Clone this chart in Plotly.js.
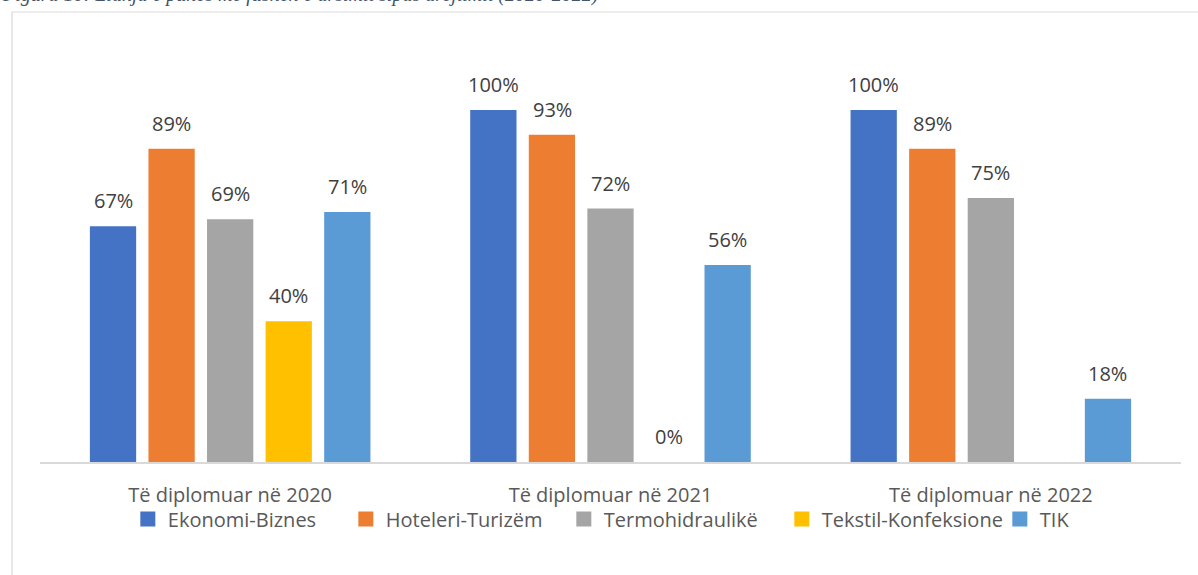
<!DOCTYPE html>
<html>
<head>
<meta charset="utf-8">
<script src="https://cdn.plot.ly/plotly-3.0.1.min.js"></script>
<style>html,body{margin:0;padding:0;background:#fff;}#chart{width:1198px;height:575px;}</style>
</head>
<body>
<div id="chart"></div>
<script>
const categories = ["Të diplomuar në 2020", "Të diplomuar në 2021", "Të diplomuar në 2022"];
const seriesNames = ["Ekonomi-Biznes", "Hoteleri-Turizëm", "Termohidraulikë", "Tekstil-Konfeksione", "TIK"];
const ekonomiBiznes = [67, 100, 100];
const hoteleriTurizem = [89, 93, 89];
const termohidraulike = [69, 72, 75];
const tekstilKonfeksione = [40, 0, null];
const tik = [71, 56, 18];
const seriesColors = ["#4472C4", "#ED7D31", "#A5A5A5", "#FFC000", "#5B9BD5"];
const caption = "Figura 10: Lidhja e punës me fushën e arsimit sipas drejtimit (2020-2022)";

const allSeries = [ekonomiBiznes, hoteleriTurizem, termohidraulike, tekstilKonfeksione, tik];

const traces = allSeries.map((vals, i) => ({
  type: "bar",
  name: seriesNames[i],
  x: categories,
  y: vals,
  marker: {color: seriesColors[i]},
  showlegend: false,
  hoverinfo: "skip"
}));
// legend-only entries with square swatches
seriesNames.forEach((n, i) => {
  traces.push({
    type: "scatter", mode: "markers", name: n,
    x: [null], y: [null],
    marker: {symbol: "square", size: 15, color: seriesColors[i]},
    showlegend: true, hoverinfo: "skip"
  });
});

const step = 58.5;
const annotations = [];
allSeries.forEach((vals, i) => {
  vals.forEach((v, j) => {
    if (v === null) return;
    annotations.push({
      x: categories[j], y: v, xref: "x", yref: "y",
      text: v + "%", showarrow: false,
      xshift: (i - 2) * step, yanchor: "bottom", yshift: 10,
      font: {family: "Open Sans, sans-serif", size: 20, color: "#404040"}
    });
  });
});
annotations.push({
  xref: "paper", yref: "paper", x: -0.035, y: 1.0758,
  xanchor: "left", yanchor: "bottom", showarrow: false,
  text: "<i>" + caption + "</i>",
  font: {family: "Liberation Serif, serif", size: 20, color: "#44546A"}
});

const layout = {
  width: 1198, height: 575,
  margin: {l: 40, r: 17, t: 40, b: 113, autoexpand: false},
  paper_bgcolor: "#ffffff", plot_bgcolor: "#ffffff",
  barmode: "group", bargap: 0.23, bargroupgap: 0.21,
  showlegend: true,
  legend: {
    orientation: "h", xref: "container", yref: "container",
    x: 0.1067, xanchor: "left", y: 0.0974, yanchor: "middle",
    entrywidth: 173, entrywidthmode: "pixels",
    bgcolor: "rgba(0,0,0,0)",
    font: {family: "Open Sans, sans-serif", size: 20, color: "#595959"},
    traceorder: "normal"
  },
  xaxis: {
    type: "category", showgrid: false, zeroline: false,
    showline: true, linecolor: "#D9D9D9", linewidth: 1.5,
    ticks: "", ticklen: 0, ticklabelstandoff: 14,
    tickfont: {family: "Open Sans, sans-serif", size: 20, color: "#595959"}
  },
  yaxis: {
    range: [0, 119.9], showgrid: false, zeroline: false, showline: false,
    showticklabels: false, ticks: ""
  },
  shapes: [{
    type: "rect", xref: "paper", yref: "paper",
    x0: -0.0245, x1: 1.2, y0: -0.3, y1: 1.0664,
    line: {color: "#D9D9D9", width: 1.2}, fillcolor: "rgba(0,0,0,0)", layer: "below"
  }],
  annotations: annotations
};

Plotly.newPlot("chart", traces, layout, {displayModeBar: false, staticPlot: true});
</script>
</body>
</html>
